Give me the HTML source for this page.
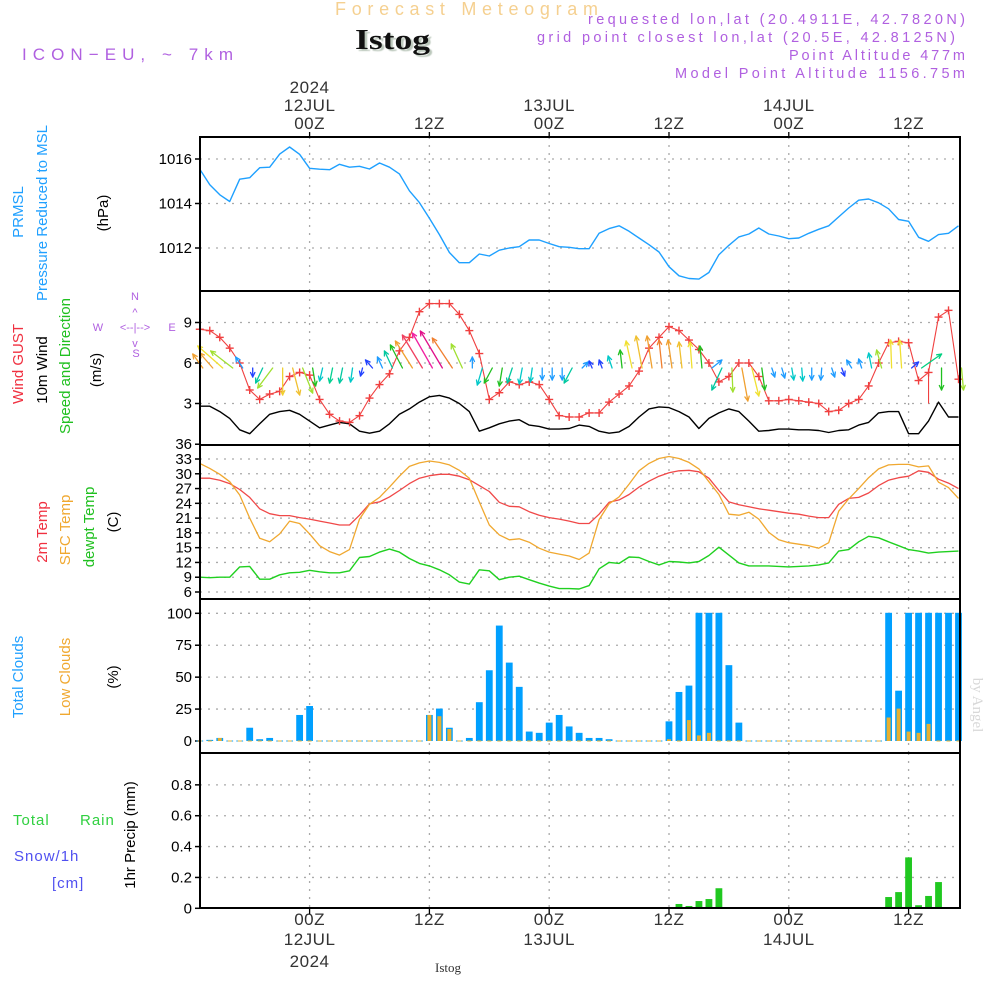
<!DOCTYPE html>
<html>
<head>
<meta charset="utf-8">
<style>
  html, body { margin:0; padding:0; background:#fff; }
  svg { display:block; font-family:"Liberation Sans", sans-serif; }
</style>
</head>
<body>
<svg id="chart" width="1000" height="1000" viewBox="0 0 1000 1000" xmlns="http://www.w3.org/2000/svg">
  <rect x="0" y="0" width="1000" height="1000" fill="#fff"/>
  <!-- header -->
  <text x="335" y="15" textLength="263" lengthAdjust="spacing" font-size="18" fill="#f5d090">Forecast Meteogram</text>
  <text x="355" y="49" textLength="75" lengthAdjust="spacingAndGlyphs" font-size="28" font-weight="bold" font-family="Liberation Serif, serif" fill="#111" style="text-shadow:2px 2px 1px #bcc8bc">Istog</text>
  <text x="22" y="60" textLength="211" lengthAdjust="spacing" font-size="17" fill="#b060e0">ICON−EU, ~ 7km</text>
  <g font-size="14.5" fill="#b060e0">
    <text x="588" y="24" textLength="377" lengthAdjust="spacing">requested lon,lat (20.4911E, 42.7820N)</text>
    <text x="537" y="42" textLength="418" lengthAdjust="spacing">grid point closest lon,lat (20.5E, 42.8125N)</text>
    <text x="789" y="60" textLength="176" lengthAdjust="spacing">Point Altitude 477m</text>
    <text x="675" y="78" textLength="290" lengthAdjust="spacing">Model Point Altitude 1156.75m</text>
  </g>
  <!-- left labels -->
  <g font-size="15">
    <text transform="translate(23,212) rotate(-90)" text-anchor="middle" fill="#20a0ff">PRMSL</text>
    <text transform="translate(47,213) rotate(-90)" text-anchor="middle" fill="#20a0ff">Pressure Reduced to MSL</text>
    <text transform="translate(108,213) rotate(-90)" text-anchor="middle" fill="#000">(hPa)</text>
    <text transform="translate(23,364) rotate(-90)" text-anchor="middle" fill="#f03040">Wind GUST</text>
    <text transform="translate(47,370) rotate(-90)" text-anchor="middle" fill="#000">10m Wind</text>
    <text transform="translate(70,366) rotate(-90)" text-anchor="middle" fill="#20c020">Speed and Direction</text>
    <text transform="translate(101,370) rotate(-90)" text-anchor="middle" fill="#000">(m/s)</text>
    <text transform="translate(47,532) rotate(-90)" text-anchor="middle" fill="#f03040">2m Temp</text>
    <text transform="translate(70,530) rotate(-90)" text-anchor="middle" fill="#f0a830">SFC Temp</text>
    <text transform="translate(94,527) rotate(-90)" text-anchor="middle" fill="#20c020">dewpt Temp</text>
    <text transform="translate(118,522) rotate(-90)" text-anchor="middle" fill="#000">(C)</text>
    <text transform="translate(23,677) rotate(-90)" text-anchor="middle" fill="#20a0ff">Total Clouds</text>
    <text transform="translate(70,677) rotate(-90)" text-anchor="middle" fill="#f0a830">Low Clouds</text>
    <text transform="translate(118,677) rotate(-90)" text-anchor="middle" fill="#000">(%)</text>
    <text transform="translate(135,835) rotate(-90)" text-anchor="middle" fill="#000">1hr Precip (mm)</text>
    <text x="13" y="825" fill="#30d040" letter-spacing="1">Total</text>
    <text x="80" y="825" fill="#30d040" letter-spacing="1">Rain</text>
    <text x="14" y="861" fill="#5050f0" letter-spacing="1">Snow/1h</text>
    <text x="52" y="888" fill="#5050f0" letter-spacing="1">[cm]</text>
  </g>
  <g font-size="11" fill="#b060e0" text-anchor="middle">
    <text x="135" y="300">N</text>
    <text x="98" y="331">W</text>
    <text x="172" y="331">E</text>
    <text x="136" y="357">S</text>
    <text x="135" y="331">&lt;--|--&gt;</text>
    <text x="135" y="316">^</text>
    <text x="135" y="347">v</text>
  </g>
  <text transform="translate(973,705) rotate(90)" text-anchor="middle" font-size="15" font-family="Liberation Serif, serif" fill="#d8d8d8">by Angel</text>
  <text x="448" y="972" text-anchor="middle" font-size="13" font-family="Liberation Serif, serif" fill="#333">Istog</text>
  <g id="plot"></g>
</svg>
<script>
// ---------- data (hourly, 11 JUL 13Z .. 14 JUL 17Z) ----------
const hours = [];
for (let h = -11; h <= 65; h++) hours.push(h);

const pressure = [1015.54,1014.84,1014.39,1014.09,1015.09,1015.16,1015.61,1015.63,1016.22,1016.54,
 1016.21,1015.58,1015.54,1015.52,1015.76,1015.63,1015.67,1015.55,1015.82,1015.63,
 1015.33,1014.57,1014.04,1013.34,1012.6,1011.8,1011.34,1011.34,1011.73,1011.64,
 1011.9,1012.0,1012.06,1012.36,1012.36,1012.2,1012.06,1012.03,1011.97,1011.97,
 1012.66,1012.87,1013.0,1012.75,1012.45,1012.15,1011.82,1011.16,1010.75,1010.63,
 1010.6,1010.9,1011.7,1012.12,1012.5,1012.63,1012.9,1012.63,1012.54,1012.42,
 1012.45,1012.66,1012.84,1013.0,1013.4,1013.8,1014.15,1014.2,1014.03,1013.76,
 1013.28,1013.2,1012.48,1012.3,1012.6,1012.66,1013.0];

const wind10m = [2.8,2.8,2.4,1.9,1.05,0.76,1.5,2.2,2.4,2.5,
 2.2,1.7,1.2,1.4,1.6,1.5,0.95,0.8,0.95,1.5,
 2.2,2.6,3.1,3.5,3.6,3.4,3.0,2.4,0.95,1.2,
 1.5,1.7,1.8,1.4,1.3,1.1,1.1,1.15,1.4,1.3,
 0.95,0.8,0.9,1.3,2.0,2.6,2.75,2.7,2.4,2.0,
 1.15,1.9,2.3,2.6,2.4,1.7,0.95,1.0,1.1,1.1,
 1.05,1.05,1.0,0.85,1.0,1.05,1.4,1.6,2.3,2.4,
 2.4,0.76,0.76,1.7,3.1,2.0,2.0];

const gust = [8.5,8.4,7.9,7.1,6.0,4.0,3.3,3.7,3.9,5.0,5.3,
 5.1,3.3,2.2,1.7,1.6,2.1,3.4,4.4,5.2,6.9,
 7.9,9.8,10.4,10.4,10.4,9.6,8.4,6.7,3.3,3.8,
 4.6,4.4,4.6,4.4,3.3,2.1,2.0,2.0,2.3,2.3,
 3.1,3.7,4.3,5.4,7.1,7.9,8.7,8.4,7.7,7.0,
 6.0,4.6,5.0,6.0,6.0,5.0,3.2,3.2,3.3,3.2,
 3.1,3.0,2.4,2.5,3.0,3.3,4.3,6.0,7.5,7.6,
 7.5,4.7,5.3,9.4,9.9,4.8];
// gust spike: hour index and value it drops to
const gustSpikeIndex = [73];
const gustSpikeLow = [3.0];

// wind vector components (arrow direction/length) and colour class per hour
const windU = [-10,-13,-25,-22,-7,0,-7,-15,0,7, 10,3,-3,-3,-3,-2,-2,-7,-5,-8,
 -12,-17,-20,-20,-22,-20,-11,0,-5,-8, -3,-5,-3,-2,0,0,0,-8,6,-3,
 -3,-4,-2,-6,-6,-5,-3,-4,-3,-2, -2,10,-10,1,6,7,3,3,3,2,
 1,0,-1,3,3,-5,-3,-3,-5,-1, -2,7,20,0,0,0,2];
const windV = [14,15,22,17,11,-9,-15,-20,-27,-27, -25,-18,-13,-15,-15,-14,-8,8,11,17,
 23,27,33,35,37,30,24,11,-17,-15, -18,-15,-16,-14,-12,-12,-12,-15,6,7,
 8,12,18,27,32,32,28,28,26,26, 22,8,-22,-24,-33,-28,-22,-9,-10,-12,
 -13,-12,-12,-9,-8,8,9,15,18,28, 28,6,14,0,-22,0,-22];
const windColor = ['#f0a030','#f0a030','#f0e030','#a0e030','#1e9cff','#2040ff','#00c8a0','#a0e030','#f0d030','#f0c030',
 '#a0e030','#20c020','#00c8c8','#00d090','#00c8a0','#00c8c8','#2040ff','#2040ff','#1e9cff','#00c8a0',
 '#20c020','#f0a030','#f04060','#f020a0','#e0108a','#f08030','#a0e030','#1e9cff','#00c8c8','#20c020',
 '#20c020','#00c8a0','#00c8c8','#00c8c8','#1e9cff','#1e9cff','#1e9cff','#00c8a0','#1e9cff','#2040ff',
 '#2040ff','#00c8c8','#20c020','#f0e030','#f0c030','#f0a030','#f08030','#f0a030','#f0c030','#f0e030',
 '#20c020','#1e9cff','#00c8a0','#a0e030','#f0a030','#f0e030','#20c020','#1e9cff','#1e9cff','#00c8c8',
 '#00c8c8','#1e9cff','#1e9cff','#1e9cff','#2040ff','#1e9cff','#1e9cff','#00c8c8','#a0e030','#f0e030',
 '#f0e030','#2040ff','#00d080',null,'#20c020',null,'#a0e030'];

const temp2m = [29.1,29.1,28.7,28.0,26.8,25.2,22.9,21.9,21.5,21.5,
 21.1,20.8,20.4,20.0,19.6,19.6,21.6,23.9,24.3,25.3,
 26.6,28.0,29.1,29.6,29.9,29.9,29.5,28.8,27.6,26.4,
 24.2,23.4,23.3,22.3,21.6,21.1,20.8,20.4,19.9,19.9,
 21.8,24.2,24.7,25.8,27.3,28.5,29.5,30.2,30.6,30.7,
 30.4,29.1,26.6,24.3,23.7,23.3,22.9,22.6,22.3,22.0,
 21.8,21.4,21.1,21.1,23.8,25.0,25.2,26.1,27.6,28.7,
 29.2,29.5,30.6,30.3,28.9,28.1,27.0];

const tempSfc = [32.1,31.1,29.9,28.4,25.7,21.0,16.9,16.2,17.8,20.4,
 19.9,17.8,15.4,14.2,13.5,14.6,20.8,23.8,25.2,27.3,
 29.5,31.5,32.2,32.6,32.3,31.8,30.7,29.1,24.3,19.6,
 17.6,16.6,16.8,16.1,14.9,14.1,13.7,13.3,12.6,13.9,
 20.7,23.9,25.3,27.9,30.6,32.1,33.1,33.5,33.1,32.3,
 31.0,28.4,25.8,21.8,21.6,22.2,20.8,18.1,16.6,16.0,
 15.7,15.4,14.9,16.0,22.4,24.9,27.0,29.2,31.0,31.8,
 31.9,31.9,31.4,31.6,28.3,27.2,25.0];

const dewpoint = [9.0,8.9,9.0,9.0,11.1,11.2,8.6,8.6,9.5,9.9,
 10.0,10.4,10.1,9.9,9.9,10.3,13.0,13.2,14.1,14.7,
 14.1,12.8,11.8,11.3,10.5,9.5,8.0,7.6,10.5,10.3,
 8.5,9.0,9.2,8.5,7.8,7.2,6.7,6.7,6.6,7.3,
 10.7,12.0,11.8,13.1,13.0,12.2,11.5,12.2,12.1,11.9,
 12.2,13.4,15.1,13.5,11.9,11.3,11.3,11.3,11.2,11.1,
 11.2,11.3,11.5,11.9,14.3,14.6,16.2,17.3,17.0,16.2,
 15.4,14.6,14.3,13.9,14.1,14.2,14.3];

const totalClouds = [0,0.5,2,0,0,10,1,2,0,0, 20,27,0,0,0,0,0,0,0,0,
 0,0,0,20,25,10,0,2,30,55, 90,61,42,7,6,14,20,11,6,2,
 2,1,0,0,0,0,0,15,38,43, 100,100,100,59,14,0,0,0,0,0,
 0,0,0,0,0,0,0,0,0,100, 39,100,100,100,100,100,100];
const lowClouds = [0,0,2,0,0,0,0,0,0,0, 0,0,0,0,0,0,0,0,0,0,
 0,0,0,20,19,9,0,0,0,0, 0,0,0,0,0,0,0,0,0,0,
 0,0,0,0,0,0,0,1,0,16, 4,6,0,0,0,0,0,0,0,0,
 0,0,0,0,0,0,0,0,0,18, 25,7,6,13,0,0,0];

const precip = [0,0,0,0,0,0,0,0,0,0, 0,0,0,0,0,0,0,0,0,0,
 0,0,0,0,0,0,0,0,0,0, 0,0,0,0,0,0,0,0,0,0,
 0,0,0,0,0,0,0,0,0.028,0.015, 0.047,0.06,0.13,0,0,0,0,0,0,0,
 0,0,0,0,0,0,0,0,0,0.073, 0.105,0.33,0.02,0.08,0.17,0,0];

const pressureTicks = [1012,1014,1016];
const windTicks = [3,6,9];
const tempTicks = [6,9,12,15,18,21,24,27,30,33,36];
const cloudTicks = [0,25,50,75,100];
const precipTicks = [0,0.2,0.4,0.6,0.8];
const timeTicksHours = [0,12,24,36,48,60];
const timeTickLabels = ['00Z','12Z','00Z','12Z','00Z','12Z'];
const dateLabels = {0:'12JUL',24:'13JUL',48:'14JUL'};

// ---------- axis functions ----------
const X0 = 200, X1 = 960;
const xH = h => 309.6 + h * 9.983;
const yP = p => 159 + (1016 - p) * 22.25;
const yW = v => 444 - v * 13.5;
const yT = t => 459 + (33 - t) * 4.926;
const yC = c => 741 - c * 1.277;
const yR = r => 908.3 - r * 154.3;
const panels = [[137,291],[291,445],[445,599],[599,753],[753,908]];

const NS = 'http://www.w3.org/2000/svg';
const plot = document.getElementById('plot');
function mk(tag, attrs, parent) {
  const e = document.createElementNS(NS, tag);
  for (const k in attrs) e.setAttribute(k, attrs[k]);
  (parent || plot).appendChild(e);
  return e;
}

// gridlines
const grid = mk('g', {});


panels.forEach(([t,b]) => {
  timeTicksHours.forEach(h => {
    mk('line', {x1:xH(h), x2:xH(h), y1:t, y2:b, stroke:'#aaa', 'stroke-width':1.3, 'stroke-dasharray':'2,6'}, grid);
  });
});
function hgrid(ticks, fy) {
  ticks.forEach(v => mk('line', {x1:X0, x2:X1, y1:fy(v), y2:fy(v), stroke:'#aaa', 'stroke-width':1.3, 'stroke-dasharray':'2,6'}, grid));
}
hgrid(pressureTicks, yP); hgrid(windTicks, yW); hgrid(tempTicks.slice(0,-1), yT); hgrid(cloudTicks.slice(1), yC); hgrid(precipTicks.slice(1), yR);

// y-axis tick labels
function yAxis(ticks, fy, fmt, name) {
  const g = mk('g', {'font-size':15, fill:'#000', 'text-anchor':'end'});
  
  
  ticks.forEach(v => {
    mk('line', {x1:X0-5, x2:X0, y1:fy(v), y2:fy(v), stroke:'#000', 'stroke-width':1.5}, g);
    const t = mk('text', {x:X0-8, y:fy(v)+5}, g);
    t.textContent = fmt(v);
  });
}
yAxis(pressureTicks, yP, v => v, 'pressure-y-axis');
yAxis(windTicks, yW, v => v, 'wind-y-axis');
yAxis(tempTicks, yT, v => v, 'temp-y-axis');
yAxis(cloudTicks, yC, v => v, 'cloud-y-axis');
yAxis(precipTicks, yR, v => v === 0 ? '0' : v.toFixed(1), 'precip-y-axis');

// x-axis labels top/bottom
const xt = mk('g', {'font-size':17, fill:'#333', 'text-anchor':'middle', 'letter-spacing':'0.5'});


timeTicksHours.forEach((h, k) => {
  let t = mk('text', {x:xH(h), y:129}, xt); t.textContent = timeTickLabels[k];
  t = mk('text', {x:xH(h), y:925}, xt); t.textContent = timeTickLabels[k];
  mk('line', {x1:xH(h), x2:xH(h), y1:132, y2:137, stroke:'#000', 'stroke-width':1.3}, xt);
  mk('line', {x1:xH(h), x2:xH(h), y1:908, y2:914, stroke:'#000', 'stroke-width':1.3}, xt);
  if (dateLabels[h]) {
    t = mk('text', {x:xH(h), y:111}, xt); t.textContent = dateLabels[h];
    t = mk('text', {x:xH(h), y:945}, xt); t.textContent = dateLabels[h];
  }
});
let yr = mk('text', {x:xH(0), y:93}, xt); yr.textContent = '2024';
yr = mk('text', {x:xH(0), y:967}, xt); yr.textContent = '2024';

// series helpers
function line(vals, fy, color, w, name) {
  const pts = vals.map((v,i) => xH(hours[i]).toFixed(1) + ',' + fy(v).toFixed(1)).join(' ');
  const p = mk('polyline', {points:pts, fill:'none', stroke:color, 'stroke-width':w, 'stroke-linejoin':'round'});
  
  
  return p;
}

// pressure
line(pressure, yP, '#1ea0ff', 1.4, 'pressure-line');

// wind 10m
line(wind10m, yW, '#000', 1.4, 'wind-10m-line');
// gust
line(gust, yW, '#f04040', 1.1, 'wind-gust-line');
gustSpikeIndex.forEach((idx, k) => {
  const s = mk('line', {x1:xH(hours[idx]), x2:xH(hours[idx]), y1:yW(gust[idx]), y2:yW(gustSpikeLow[k]), stroke:'#f04040', 'stroke-width':1.1});
  
  
});
const gm = mk('g', {stroke:'#f04040', 'stroke-width':1.4});


gust.forEach((v,i) => {
  const x = xH(hours[i]), y = yW(v);
  mk('line', {x1:x-4, x2:x+4, y1:y, y2:y}, gm);
  mk('line', {x1:x, x2:x, y1:y-4, y2:y+4}, gm);
});
// wind arrows
const wa = mk('g', {'stroke-width':1.3, fill:'none', 'stroke-linecap':'round'});


windU.forEach((u,i) => {
  const v = windV[i], c = windColor[i];
  if (!c || (u === 0 && v === 0)) return;
  const x0 = xH(hours[i]) + 3, y0 = 368;
  const x1 = x0 + u, y1 = y0 - v;
  const g = mk('g', {stroke:c}, wa);
  
  
  mk('line', {x1:x0, y1:y0, x2:x1, y2:y1}, g);
  const a = Math.atan2(y1 - y0, x1 - x0), L = 5;
  [0.45, -0.45].forEach(d => {
    mk('line', {x1:x1, y1:y1, x2:x1 - L*Math.cos(a+d), y2:y1 - L*Math.sin(a+d)}, g);
  });
});

// temperatures
line(temp2m, yT, '#f04848', 1.3, 'temp-2m-line');
line(tempSfc, yT, '#f0a830', 1.3, 'temp-sfc-line');
line(dewpoint, yT, '#20d020', 1.4, 'dewpoint-line');

// clouds
const cg = mk('g', {});


totalClouds.forEach((c,i) => {
  const x = xH(hours[i]);
  const b = mk('rect', {x:x-3.4, y:yC(c)-0.5, width:6.8, height:Math.max(1, yC(0)-yC(c)+0.5), fill:'#00a0ff'}, cg);
  
  
  const l = lowClouds[i];
  const o = mk('rect', {x:x-2, y:yC(l)-0.5, width:4, height:Math.max(1, yC(0)-yC(l)+0.5), fill:'#e8b030'}, cg);
  
  
});

// precip
const pg = mk('g', {});


precip.forEach((r,i) => {
  if (r <= 0) return;
  const x = xH(hours[i]);
  const b = mk('rect', {x:x-3.4, y:yR(r), width:6.8, height:yR(0)-yR(r), fill:'#20c820'}, pg);
  
  
});
mk('line', {x1:X0, x2:X1, y1:yR(0), y2:yR(0), stroke:'#000', 'stroke-width':1.5, 'stroke-dasharray':'8,3'});

// panel frames
const fr = mk('g', {fill:'none', stroke:'#000', 'stroke-width':2});


panels.forEach(([t,b]) => mk('rect', {x:X0, y:t, width:X1-X0, height:b-t}, fr));
</script>
</body>
</html>
